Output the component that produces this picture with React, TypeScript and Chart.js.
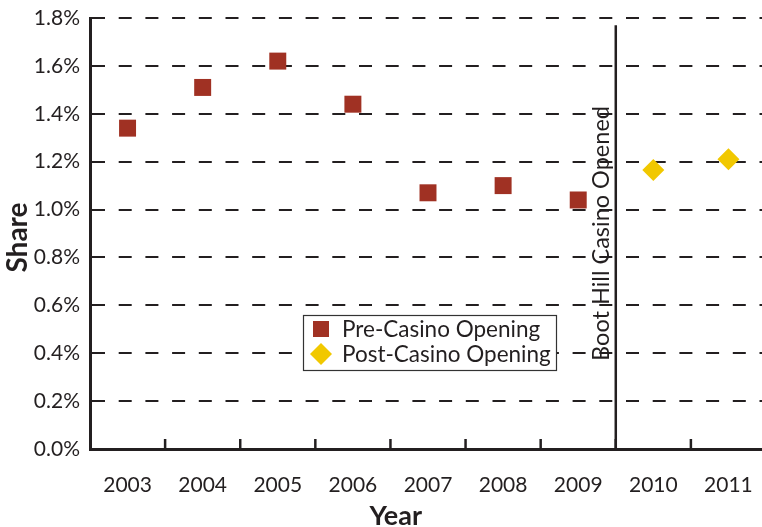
import React, { useEffect, useRef } from "react";
import { Chart, registerables } from "chart.js";

Chart.register(...registerables);

const years = ["2003", "2004", "2005", "2006", "2007", "2008", "2009", "2010", "2011"];
const preCasino = [1.34, 1.51, 1.62, 1.44, 1.07, 1.1, 1.04, null, null];
const postCasino = [null, null, null, null, null, null, null, 1.165, 1.21];
const yMin = 0;
const yMax = 1.8;
const yStep = 0.2;
const openingAfterIndex = 6; // line drawn between 2009 and 2010
const eventLabel = "Boot Hill Casino Opened";
const legendLabels = ["Pre-Casino Opening", "Post-Casino Opening"];
const xTitle = "Year";
const yTitle = "Share";

const INK = "#231F20";
const RED = "#A03123";
const YELLOW = "#F1C800";
const FONT = "Lato";
const W = 762;
const H = 527;
const PLOT_OVERHANG = 4; // the plot runs slightly past the right edge of the picture

const overlayPlugin = {
  id: "overlay",
  afterLayout(chart: any) {
    const x = chart.scales.x;
    x.right = x.right + PLOT_OVERHANG;
    x.width = x.right - x.left;
    x.configure();
    chart.chartArea.right = x.right;
    chart.chartArea.width = chart.chartArea.right - chart.chartArea.left;
  },
  afterDatasetsDraw(chart: any) {
    const { ctx, chartArea, scales } = chart;
    const x = scales.x;
    const y = scales.y;
    ctx.save();
    // inward ticks at category boundaries
    ctx.strokeStyle = INK;
    ctx.lineWidth = 2.5;
    for (let i = 0; i < years.length - 1; i++) {
      const bx = (x.getPixelForValue(i) + x.getPixelForValue(i + 1)) / 2;
      ctx.beginPath();
      ctx.moveTo(bx, chartArea.bottom);
      ctx.lineTo(bx, chartArea.bottom - 10);
      ctx.stroke();
    }
    // event line
    const lx = (x.getPixelForValue(openingAfterIndex) + x.getPixelForValue(openingAfterIndex + 1)) / 2;
    ctx.lineWidth = 2.5;
    ctx.beginPath();
    ctx.moveTo(lx, y.getPixelForValue(1.77));
    ctx.lineTo(lx, chartArea.bottom);
    ctx.stroke();
    // event label
    ctx.save();
    ctx.translate(lx - 7, (chartArea.top + chartArea.bottom) / 2);
    ctx.rotate(-Math.PI / 2);
    ctx.fillStyle = INK;
    ctx.font = `23.5px ${FONT}`;
    ctx.textAlign = "center";
    ctx.textBaseline = "alphabetic";
    ctx.fillText(eventLabel, 0, 0);
    ctx.restore();
    // axis titles
    ctx.fillStyle = INK;
    ctx.font = `bold 27px ${FONT}`;
    ctx.textAlign = "center";
    ctx.textBaseline = "alphabetic";
    ctx.fillText(xTitle, x.getPixelForValue(3.57), 525);
    ctx.save();
    ctx.translate(27, (chartArea.top + chartArea.bottom) / 2 + 4);
    ctx.rotate(-Math.PI / 2);
    ctx.font = `bold 28px ${FONT}`;
    ctx.fillText(yTitle, 0, 0);
    ctx.restore();
    ctx.restore();
  },
  afterDraw(chart: any) {
    const { ctx } = chart;
    const left = 303;
    const top = 315;
    const w = 253;
    const h = 55;
    ctx.save();
    ctx.fillStyle = "#ffffff";
    ctx.fillRect(left, top, w, h);
    ctx.strokeStyle = "#333";
    ctx.lineWidth = 1.2;
    ctx.strokeRect(left + 0.5, top + 0.5, w, h);
    const mx = left + 18;
    const rows = [top + 14, top + 39];
    // square marker
    ctx.fillStyle = chart.data.datasets[0].backgroundColor;
    ctx.fillRect(mx - 8, rows[0] - 8, 16, 16);
    // diamond marker
    ctx.fillStyle = chart.data.datasets[1].backgroundColor;
    ctx.beginPath();
    ctx.moveTo(mx, rows[1] - 11);
    ctx.lineTo(mx + 11, rows[1]);
    ctx.lineTo(mx, rows[1] + 11);
    ctx.lineTo(mx - 11, rows[1]);
    ctx.closePath();
    ctx.fill();
    ctx.fillStyle = INK;
    ctx.font = `22.5px ${FONT}`;
    ctx.textBaseline = "middle";
    ctx.textAlign = "left";
    ctx.fillText(legendLabels[0], left + 39, rows[0] + 1);
    ctx.fillText(legendLabels[1], left + 39, rows[1] + 1);
    ctx.restore();
  },
};

export default function App() {
  const ref = useRef<HTMLCanvasElement | null>(null);
  useEffect(() => {
    document.body.style.margin = "0";
    document.body.style.overflow = "hidden";
    const canvas = ref.current;
    if (!canvas) return;
    const chart = new Chart(canvas, {
      type: "line",
      data: {
        labels: years,
        datasets: [
          {
            label: legendLabels[0],
            data: preCasino,
            showLine: false,
            pointStyle: "rect",
            pointRadius: 12,
            pointBorderWidth: 0,
            backgroundColor: RED,
            borderColor: RED,
          },
          {
            label: legendLabels[1],
            data: postCasino,
            showLine: false,
            pointStyle: "rectRot",
            pointRadius: 11,
            pointBorderWidth: 0,
            backgroundColor: YELLOW,
            borderColor: YELLOW,
          },
        ],
      },
      options: {
        animation: false,
        responsive: false,
        devicePixelRatio: 1,
        layout: { autoPadding: false, padding: { top: 18, right: 0, left: 0, bottom: 0 } },
        plugins: {
          legend: { display: false },
          tooltip: { enabled: false },
        },
        scales: {
          x: {
            type: "category",
            offset: true,
            grid: {
              display: true,
              drawOnChartArea: false,
              drawTicks: true,
              tickLength: 24,
              color: "rgba(0,0,0,0)",
            },
            border: { display: true, color: INK, width: 3 },
            ticks: {
              color: INK,
              font: { family: FONT, size: 21 },
              padding: 0,
              maxRotation: 0,
              autoSkip: false,
            },
            afterFit(scale: any) {
              scale.height = 78;
              scale.paddingLeft = 0;
              scale.paddingRight = 0;
            },
          },
          y: {
            min: yMin,
            max: yMax,
            grid: { display: true, drawTicks: false, color: INK, lineWidth: 2 },
            border: { display: true, color: INK, width: 3, dash: [13, 13.7] },
            ticks: {
              stepSize: yStep,
              color: INK,
              font: { family: FONT, size: 21 },
              padding: 10,
              callback: (v: any) => Number(v).toFixed(1) + "%",
            },
            afterFit(scale: any) {
              scale.width = 90;
              scale.paddingTop = 0;
              scale.paddingBottom = 0;
            },
          },
        },
      },
      plugins: [overlayPlugin],
    });
    return () => chart.destroy();
  }, []);
  return (
    <div style={{ width: W, height: H, position: "absolute", left: 0, top: 0, overflow: "hidden" }}>
      <canvas ref={ref} width={W} height={H} style={{ display: "block", width: W, height: H }} />
    </div>
  );
}
